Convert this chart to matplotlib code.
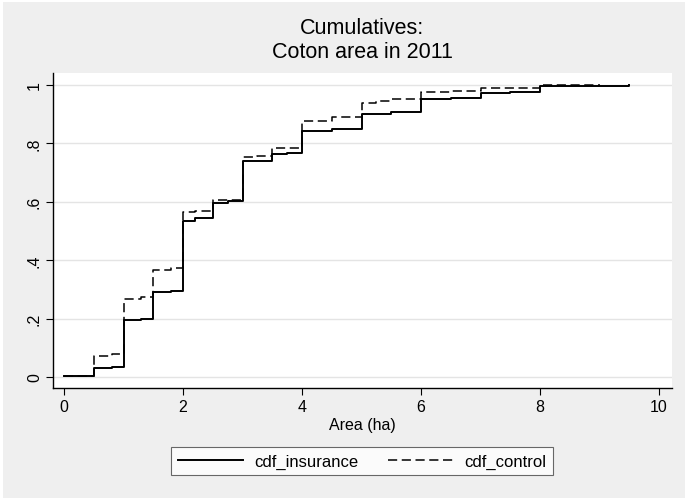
import matplotlib
matplotlib.use("Agg")
import matplotlib.pyplot as plt
from matplotlib.lines import Line2D
from matplotlib.patches import Rectangle

plt.rcParams['font.family'] = ['Liberation Sans', 'DejaVu Sans']

# Data
ins_x = [0, 0.5, 0.8, 1, 1.3, 1.5, 1.8, 2, 2.2, 2.5, 2.75, 3, 3.5, 3.75, 4, 4.5, 5, 5.5, 6, 6.5, 7, 7.5, 8, 9.5]
ins_y = [0.003, 0.030, 0.034, 0.195, 0.199, 0.290, 0.296, 0.535, 0.543, 0.597, 0.601, 0.740, 0.763, 0.767,
         0.841, 0.849, 0.900, 0.908, 0.951, 0.957, 0.972, 0.975, 0.995, 1.0]
ctl_x = [0, 0.5, 0.8, 1, 1.3, 1.5, 1.8, 2, 2.2, 2.5, 3, 3.25, 3.5, 4, 4.5, 5, 5.25, 5.5, 6, 6.5, 7, 8, 9]
ctl_y = [0.003, 0.071, 0.078, 0.267, 0.273, 0.367, 0.373, 0.564, 0.568, 0.606, 0.752, 0.758, 0.785,
         0.877, 0.889, 0.938, 0.945, 0.952, 0.975, 0.980, 0.989, 1.0, 1.0]

xticks = [0, 2, 4, 6, 8, 10]
yticks = [0, 0.2, 0.4, 0.6, 0.8, 1.0]
ytick_labels = ["0", ".2", ".4", ".6", ".8", "1"]
title_lines = ["Cumulatives:", "Coton area in 2011"]
xlabel = "Area (ha)"
labels = ["cdf_insurance", "cdf_control"]

bg = "#efefef"
dash = (0, (6, 3))
fig = plt.figure(figsize=(6.88, 5.02), dpi=100, facecolor="white")
fig.patches.append(Rectangle((3/688, 3/502), 1-6/688, 1-6/502, transform=fig.transFigure,
                             facecolor=bg, edgecolor='none', zorder=-10))

ax = fig.add_axes([53/688, 1-389/502, (672-53)/688, (389-74)/502])
ax.set_facecolor("white")

ax.step(ins_x, ins_y, where='post', color='black', lw=1.4)
ax.step(ctl_x, ctl_y, where='post', color='black', lw=1.1, linestyle=dash)

ax.set_xlim(-0.185, 10.218)
ax.set_ylim(-0.0377, 1.041)
ax.set_xticks(xticks)
ax.set_xticklabels([str(t) for t in xticks], fontsize=11.5)
ax.set_yticks(yticks)
ax.set_yticklabels(ytick_labels, fontsize=11.5, rotation=90, va='center')
ax.yaxis.grid(True, color='#e4e4e4', lw=1.0)
ax.set_axisbelow(True)
for s in ['top', 'right']:
    ax.spines[s].set_visible(False)
for s in ['left', 'bottom']:
    ax.spines[s].set_color('black')
    ax.spines[s].set_linewidth(1.0)
ax.tick_params(axis='both', direction='out', length=5, width=0.8, color='black', pad=3)
ax.set_xlabel(xlabel, fontsize=11.5, labelpad=2)

fig.text(362/688, 1-29/502, title_lines[0], ha='center', va='center', fontsize=15.5)
fig.text(362/688, 1-52/502, title_lines[1], ha='center', va='center', fontsize=15.5)

handles = [Line2D([], [], color='black', lw=1.4),
           Line2D([], [], color='black', lw=1.1, linestyle=dash)]
leg = fig.legend(handles, labels, loc='center', bbox_to_anchor=(362/688, 1-462/502), ncol=2,
                 fontsize=12, frameon=True, fancybox=False, edgecolor='#444444',
                 handlelength=3.9, columnspacing=1.8, borderpad=0.4, handletextpad=0.65,
                 borderaxespad=0)
leg.get_frame().set_linewidth(0.8)

fig.savefig("out.png", dpi=100, facecolor="white")
